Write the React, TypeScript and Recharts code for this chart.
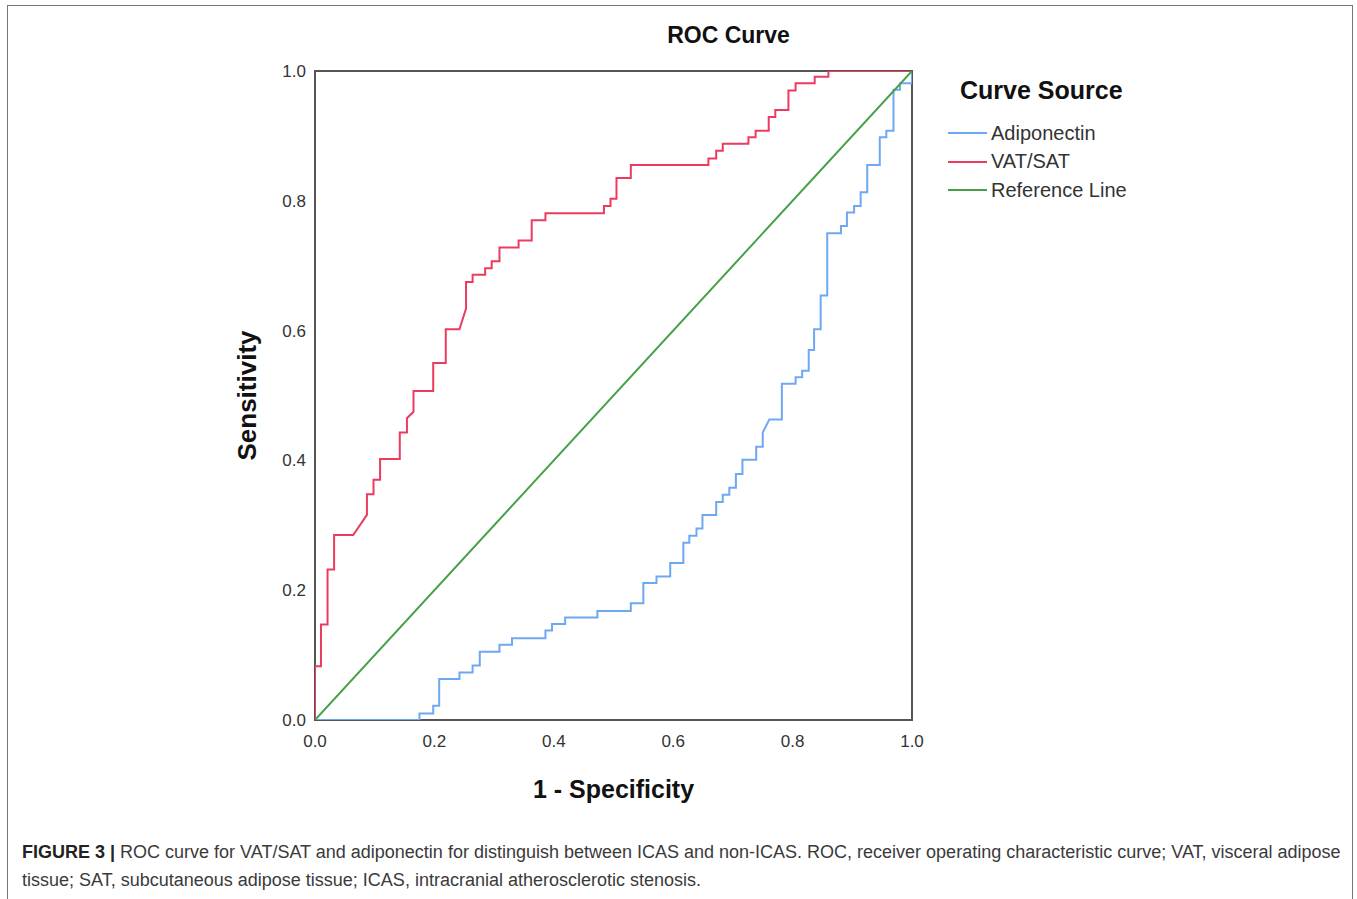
import React from 'react'
import {
  LineChart,
  Line,
  XAxis,
  YAxis,
  ReferenceArea,
  Legend,
} from 'recharts'

// ROC points (1 - specificity, sensitivity)
const vatFpr = [
  0, 0, 0.01, 0.01, 0.021, 0.021, 0.032, 0.032, 0.064, 0.087, 0.087, 0.098, 0.098, 0.109, 0.109,
  0.142, 0.142, 0.154, 0.154, 0.165, 0.165, 0.198, 0.198, 0.219, 0.219, 0.242, 0.253, 0.253,
  0.264, 0.264, 0.285, 0.285, 0.296, 0.296, 0.309, 0.309, 0.341, 0.341, 0.363, 0.363, 0.386,
  0.386, 0.484, 0.484, 0.495, 0.495, 0.505, 0.505, 0.529, 0.529, 0.659, 0.659, 0.672, 0.672,
  0.683, 0.683, 0.726, 0.726, 0.738, 0.738, 0.76, 0.76, 0.771, 0.771, 0.793, 0.793, 0.805, 0.805,
  0.837, 0.837, 0.86, 0.86, 1,
]
const vatTpr = [
  0, 0.083, 0.083, 0.147, 0.147, 0.232, 0.232, 0.285, 0.285, 0.316, 0.348, 0.348, 0.37, 0.37, 0.402,
  0.402, 0.443, 0.443, 0.465, 0.475, 0.507, 0.507, 0.55, 0.55, 0.602, 0.602, 0.634, 0.675,
  0.675, 0.686, 0.686, 0.696, 0.696, 0.707, 0.707, 0.728, 0.728, 0.739, 0.739, 0.77, 0.77,
  0.781, 0.781, 0.792, 0.792, 0.803, 0.803, 0.835, 0.835, 0.855, 0.855, 0.865, 0.865, 0.877,
  0.877, 0.888, 0.888, 0.898, 0.898, 0.908, 0.908, 0.929, 0.929, 0.94, 0.94, 0.97, 0.97, 0.981,
  0.981, 0.991, 0.991, 1, 1,
]

const adipoFpr = [
  0, 0.175, 0.175, 0.198, 0.198, 0.208, 0.208, 0.242, 0.242, 0.264, 0.264, 0.276, 0.276, 0.309,
  0.309, 0.33, 0.33, 0.386, 0.386, 0.397, 0.397, 0.419, 0.419, 0.473, 0.473, 0.529, 0.529, 0.55,
  0.55, 0.572, 0.572, 0.595, 0.595, 0.617, 0.617, 0.627, 0.627, 0.639, 0.639, 0.649, 0.649,
  0.672, 0.672, 0.683, 0.683, 0.694, 0.694, 0.705, 0.705, 0.716, 0.716, 0.739, 0.739, 0.75,
  0.75, 0.761, 0.782, 0.782, 0.805, 0.805, 0.816, 0.816, 0.827, 0.827, 0.836, 0.836, 0.847,
  0.847, 0.858, 0.858, 0.881, 0.881, 0.891, 0.891, 0.903, 0.903, 0.914, 0.914, 0.925, 0.925,
  0.946, 0.946, 0.957, 0.957, 0.969, 0.969, 0.98, 0.98, 1, 1,
]
const adipoTpr = [
  0, 0, 0.01, 0.01, 0.022, 0.022, 0.063, 0.063, 0.073, 0.073, 0.084, 0.084, 0.105, 0.105, 0.116,
  0.116, 0.126, 0.126, 0.138, 0.138, 0.148, 0.148, 0.158, 0.158, 0.168, 0.168, 0.18, 0.18,
  0.211, 0.211, 0.221, 0.221, 0.242, 0.242, 0.273, 0.273, 0.284, 0.284, 0.295, 0.295, 0.316,
  0.316, 0.336, 0.336, 0.347, 0.347, 0.358, 0.358, 0.379, 0.379, 0.401, 0.401, 0.421, 0.421,
  0.443, 0.463, 0.463, 0.518, 0.518, 0.528, 0.528, 0.538, 0.538, 0.57, 0.57, 0.602, 0.602,
  0.654, 0.654, 0.75, 0.75, 0.761, 0.761, 0.782, 0.782, 0.792, 0.792, 0.813, 0.813, 0.855,
  0.855, 0.898, 0.898, 0.908, 0.908, 0.971, 0.971, 0.981, 0.981, 1,
]

const refFpr = [0, 1]
const refTpr = [0, 1]

const ticks = [0, 0.2, 0.4, 0.6, 0.8, 1]
const legendOrder = ['Adiponectin', 'VAT/SAT', 'Reference Line']

const toPoints = (xs: number[], ys: number[]) => xs.map((x, i) => ({ x, y: ys[i] }))

const font = 'Arial, "Liberation Sans", sans-serif'
const tickStyle = { fill: '#333', fontSize: 17, fontFamily: font }

function LegendBox(props: any) {
  const items = [...(props.payload || [])].sort(
    (a: any, b: any) => legendOrder.indexOf(a.value) - legendOrder.indexOf(b.value)
  )
  return (
    <div style={{ fontFamily: font }}>
      <div style={{ fontWeight: 'bold', fontSize: 25, color: '#111', marginLeft: 12, marginTop: 2, marginBottom: 14 }}>
        Curve Source
      </div>
      {items.map((p: any) => (
        <div key={p.value} style={{ display: 'flex', alignItems: 'center', height: 28.5 }}>
          <span style={{ display: 'inline-block', width: 39, height: 2, background: p.color, marginRight: 4 }} />
          <span style={{ fontSize: 20, color: '#333' }}>{p.value}</span>
        </div>
      ))}
    </div>
  )
}

export default function App() {
  return (
    <div
      style={{
        position: 'absolute',
        left: 0,
        top: 0,
        width: 1357,
        height: 899,
        overflow: 'hidden',
        background: '#fff',
        fontFamily: font,
      }}
    >
      {/* figure frame */}
      <div
        style={{
          position: 'absolute',
          left: 7,
          top: 5,
          width: 1346,
          height: 920,
          border: '1.5px solid #777',
          boxSizing: 'border-box',
        }}
      />
      <div
        style={{
          position: 'absolute',
          left: 0,
          top: 22,
          width: 1457,
          textAlign: 'center',
          fontWeight: 'bold',
          fontSize: 23,
          color: '#111',
        }}
      >
        ROC Curve
      </div>

      <div style={{ position: 'absolute', left: 0, top: 0 }}>
        {/* legend takes 260px of right margin, so right = 445 - 260 */}
        <LineChart width={1357} height={899} margin={{ top: 71, left: 255, right: 185, bottom: 149 }}>
          <XAxis
            type="number"
            dataKey="x"
            domain={[0, 1]}
            ticks={ticks}
            tickFormatter={(v) => Number(v).toFixed(1)}
            axisLine={false}
            tickLine={false}
            tickSize={0}
            tickMargin={15}
            tick={tickStyle}
            height={30}
            allowDataOverflow
            label={{
              value: '1 - Specificity',
              position: 'bottom',
              offset: 30,
              style: { fontWeight: 'bold', fontSize: 25, fill: '#111', fontFamily: font },
            }}
          />
          <YAxis
            type="number"
            dataKey="y"
            domain={[0, 1]}
            ticks={ticks}
            tickFormatter={(v) => Number(v).toFixed(1)}
            axisLine={false}
            tickLine={false}
            tickSize={0}
            tickMargin={9}
            tick={tickStyle}
            width={60}
            allowDataOverflow
            label={{
              content: (p: any) => {
                const vb = p.viewBox || { x: 255, y: 71, height: 649 }
                const cx = vb.x - 8
                const cy = vb.y + vb.height / 2
                return (
                  <text
                    x={cx}
                    y={cy}
                    transform={`rotate(-90, ${cx}, ${cy})`}
                    textAnchor="middle"
                    dominantBaseline="central"
                    style={{ fontWeight: 'bold', fontSize: 26, fill: '#111', fontFamily: font }}
                  >
                    Sensitivity
                  </text>
                )
              },
            }}
          />
          <ReferenceArea x1={0} x2={1} y1={0} y2={1} fill="none" stroke="#555" strokeWidth={2} />
          <Legend
            layout="vertical"
            verticalAlign="top"
            align="right"
            content={<LegendBox />}
            wrapperStyle={{ position: 'absolute', left: 948, top: 74, width: 260 }}
          />
          <Line
            name="Adiponectin"
            data={toPoints(adipoFpr, adipoTpr)}
            dataKey="y"
            type="linear"
            stroke="#6fa8f2"
            strokeWidth={2}
            dot={false}
            isAnimationActive={false}
          />
          <Line
            name="VAT/SAT"
            data={toPoints(vatFpr, vatTpr)}
            dataKey="y"
            type="linear"
            stroke="#ec3b5e"
            strokeWidth={2}
            dot={false}
            isAnimationActive={false}
          />
          <Line
            name="Reference Line"
            data={toPoints(refFpr, refTpr)}
            dataKey="y"
            type="linear"
            stroke="#46a047"
            strokeWidth={2}
            dot={false}
            isAnimationActive={false}
          />
        </LineChart>
      </div>

      <div
        style={{
          position: 'absolute',
          left: 22,
          top: 838,
          width: 1330,
          fontSize: 18,
          lineHeight: '28px',
          color: '#3a3a3a',
          fontFamily: '"Liberation Sans", Arial, sans-serif',
          whiteSpace: 'nowrap',
        }}
      >
        <b style={{ color: '#222' }}>FIGURE 3 |</b> ROC curve for VAT/SAT and adiponectin for distinguish between ICAS and
        non-ICAS. ROC, receiver operating characteristic curve; VAT, visceral adipose
        <br />
        tissue; SAT, subcutaneous adipose tissue; ICAS, intracranial atherosclerotic stenosis.
      </div>
    </div>
  )
}
